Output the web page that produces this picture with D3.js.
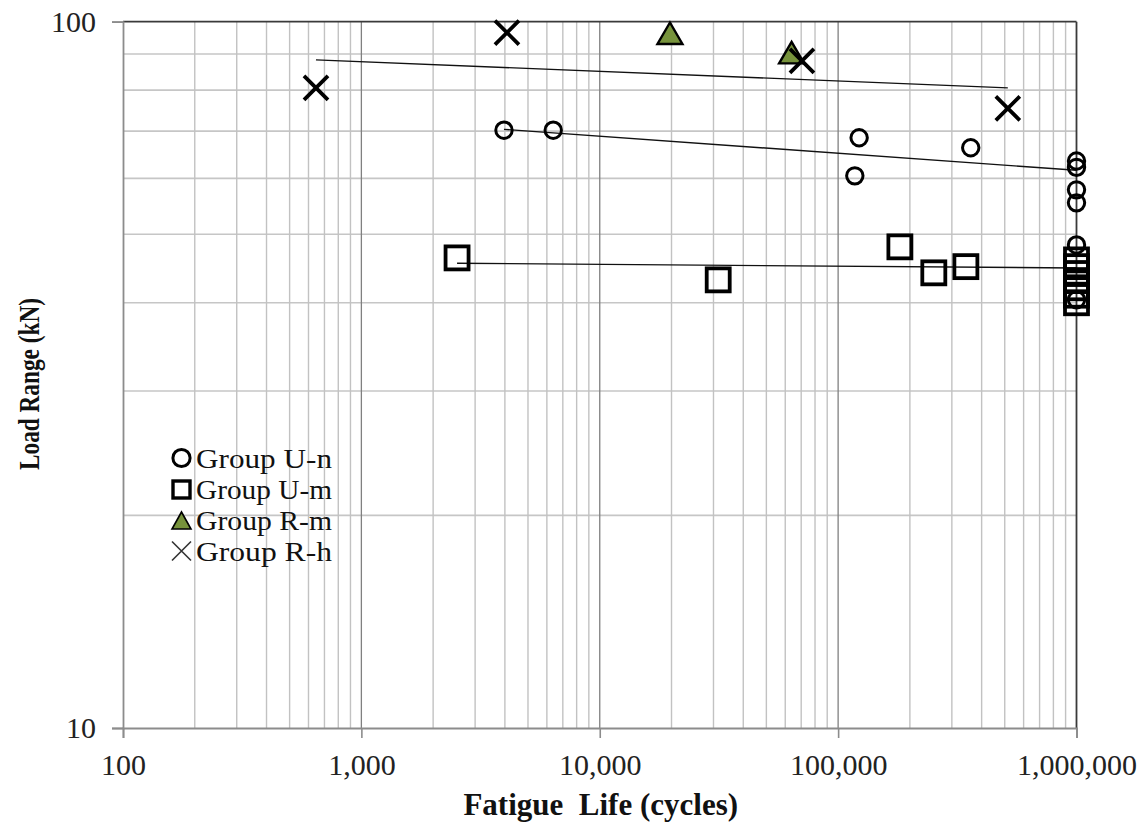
<!DOCTYPE html>
<html>
<head>
<meta charset="utf-8">
<script src="https://cdn.jsdelivr.net/npm/d3@7/dist/d3.min.js"></script>
<style>
  html, body { margin: 0; padding: 0; background: #fff; }
  svg { display: block; }
  text { font-family: "Liberation Serif", "Times New Roman", serif; }
</style>
</head>
<body>
<svg id="chart" width="1146" height="826"></svg>
<script>
// Fatigue test results: [cycles, load range kN]
const groupUn = [
  [3965, 70.2], [6380, 70.2], [122500, 68.5], [117500, 60.5], [360000, 66.3],
  [1000000, 63.5], [1000000, 62.2], [1000000, 57.8], [1000000, 55.4],
  [1000000, 48.3], [1000000, 40.4]
];
const groupUm = [
  [2520, 46.3], [31400, 43.1], [181600, 48.0], [252000, 44.1], [343500, 45.0],
  [1000000, 46], [1000000, 45], [1000000, 44], [1000000, 43],
  [1000000, 42], [1000000, 41], [1000000, 40]
];
const groupRm = [[19700, 96.3], [63800, 90.4]];
const groupRh = [[645, 80.6], [4080, 96.5], [70500, 88.0], [515000, 75.4]];

// Power-law trend lines (start and end of each fitted range)
const trendUn = [[3965, 70.4], [1000000, 61.6]];
const trendUm = [[2520, 45.5], [1000000, 44.8]];
const trendRh = [[645, 88.3], [515000, 80.6]];

const xTicks = [100, 1000, 10000, 100000, 1000000];
const yTicks = [10, 100];
const legendLabels = ["Group U-n", "Group U-m", "Group R-m", "Group R-h"];
const xTitle = "Fatigue\u00A0 Life (cycles)";
const yTitle = "Load Range (kN)";

const svg = d3.select("#chart");
const W = 1146, H = 826;
const plotL = 123, plotR = 1076.5, plotT = 21.7, plotB = 728;

svg.append("rect").attr("width", W).attr("height", H).attr("fill", "#fff");

const x = d3.scaleLog().domain([100, 1000000]).range([plotL, plotR]);
const y = d3.scaleLog().domain([10, 100]).range([plotB, plotT]);

// Grid lines
const grid = svg.append("g");
const xMinor = x.ticks().filter(v => !xTicks.includes(v));
const yMinor = y.ticks().filter(v => !yTicks.includes(v));
grid.selectAll("line.hy").data(yMinor).join("line")
  .attr("x1", plotL).attr("x2", plotR)
  .attr("y1", d => y(d)).attr("y2", d => y(d))
  .attr("stroke", "#c6c6c6").attr("stroke-width", 1.6);
grid.selectAll("line.vx").data(xMinor).join("line")
  .attr("x1", d => x(d)).attr("x2", d => x(d))
  .attr("y1", plotT).attr("y2", plotB)
  .attr("stroke", "#c2c2c2").attr("stroke-width", 1.4);
grid.selectAll("line.vmaj").data(xTicks.slice(1, -1)).join("line")
  .attr("x1", d => x(d)).attr("x2", d => x(d))
  .attr("y1", plotT).attr("y2", plotB)
  .attr("stroke", "#808080").attr("stroke-width", 1.3);

// Plot frame (top and right)
svg.append("line").attr("x1", plotL).attr("x2", plotR).attr("y1", plotT).attr("y2", plotT)
  .attr("stroke", "#3a3a3a").attr("stroke-width", 1.8);
svg.append("line").attr("x1", plotR).attr("x2", plotR).attr("y1", plotT).attr("y2", plotB)
  .attr("stroke", "#3a3a3a").attr("stroke-width", 1.8);

// Axes
const fmt = d3.format(",");
const xAxis = svg.append("g").attr("transform", `translate(0,${plotB})`)
  .call(d3.axisBottom(x).tickValues(xTicks).tickFormat(fmt).tickSize(10).tickPadding(16));
const yAxis = svg.append("g").attr("transform", `translate(${plotL},0)`)
  .call(d3.axisLeft(y).tickValues(yTicks).tickFormat(d3.format("d")).tickSize(11).tickPadding(16));
[xAxis, yAxis].forEach(g => {
  g.select(".domain").attr("stroke", "#8c8c8c").attr("stroke-width", 1.8);
  g.selectAll(".tick line").attr("stroke", "#8c8c8c").attr("stroke-width", 1.6);
  g.selectAll(".tick text").attr("fill", "#222")
    .style("font-family", "'Liberation Serif', 'Times New Roman', serif")
    .style("font-size", "30px");
});

// Axis titles
svg.append("text").attr("x", (plotL + plotR) / 2 + 1).attr("y", 815)
  .attr("text-anchor", "middle").attr("font-weight", "bold").attr("font-size", 31)
  .attr("fill", "#111").text(xTitle);
svg.append("text")
  .attr("transform", `translate(39,384) rotate(-90)`)
  .attr("text-anchor", "middle").attr("font-weight", "bold").attr("font-size", 29)
  .attr("textLength", 172).attr("lengthAdjust", "spacingAndGlyphs")
  .attr("fill", "#111").text(yTitle);

// Trend lines
const line = d3.line().x(d => x(d[0])).y(d => y(d[1]));
svg.append("g").selectAll("path").data([trendUn, trendUm, trendRh]).join("path")
  .attr("d", line).attr("fill", "none").attr("stroke", "#111").attr("stroke-width", 1.4);

// Marker shapes
function trianglePath(w, h) {
  return `M0,${-h / 2}L${w / 2},${h / 2}L${-w / 2},${h / 2}Z`;
}
function crossPath(s) {
  return `M${-s},${-s}L${s},${s}M${-s},${s}L${s},${-s}`;
}

const marks = svg.append("g");
marks.selectAll("circle.un").data(groupUn).join("circle")
  .attr("cx", d => x(d[0])).attr("cy", d => y(d[1])).attr("r", 8.2)
  .attr("fill", "none").attr("stroke", "#000").attr("stroke-width", 3);
marks.selectAll("rect.um").data(groupUm).join("rect")
  .attr("x", d => x(d[0]) - 11.5).attr("y", d => y(d[1]) - 11.5)
  .attr("width", 23).attr("height", 23)
  .attr("fill", "none").attr("stroke", "#000").attr("stroke-width", 3.8);
marks.selectAll("path.rm").data(groupRm).join("path")
  .attr("transform", d => `translate(${x(d[0])},${y(d[1])})`)
  .attr("d", trianglePath(25, 21.5))
  .attr("fill", "#77933c").attr("stroke", "#000").attr("stroke-width", 2.4)
  .attr("stroke-linejoin", "miter");
marks.selectAll("path.rh").data(groupRh).join("path")
  .attr("transform", d => `translate(${x(d[0])},${y(d[1])})`)
  .attr("d", crossPath(12))
  .attr("fill", "none").attr("stroke", "#000").attr("stroke-width", 3.8);

// Legend
const legend = svg.append("g");
const lx = 181.5, rows = [458, 489.5, 520.5, 551];
legend.append("circle").attr("cx", lx).attr("cy", rows[0]).attr("r", 8.6)
  .attr("fill", "none").attr("stroke", "#000").attr("stroke-width", 3);
legend.append("rect").attr("x", lx - 8.5).attr("y", rows[1] - 8.5)
  .attr("width", 17).attr("height", 17)
  .attr("fill", "none").attr("stroke", "#000").attr("stroke-width", 3.4);
legend.append("path").attr("transform", `translate(${lx},${rows[2]})`)
  .attr("d", trianglePath(19, 17))
  .attr("fill", "#77933c").attr("stroke", "#000").attr("stroke-width", 1.6);
legend.append("path").attr("transform", `translate(${lx},${rows[3]})`)
  .attr("d", crossPath(9.5))
  .attr("fill", "none").attr("stroke", "#333").attr("stroke-width", 1.6);
legend.selectAll("text").data(legendLabels).join("text")
  .attr("x", 196).attr("y", (d, i) => rows[i] + 9.5)
  .attr("font-size", 27.5).attr("fill", "#111")
  .attr("textLength", 136).attr("lengthAdjust", "spacingAndGlyphs")
  .text(d => d);
</script>
</body>
</html>
